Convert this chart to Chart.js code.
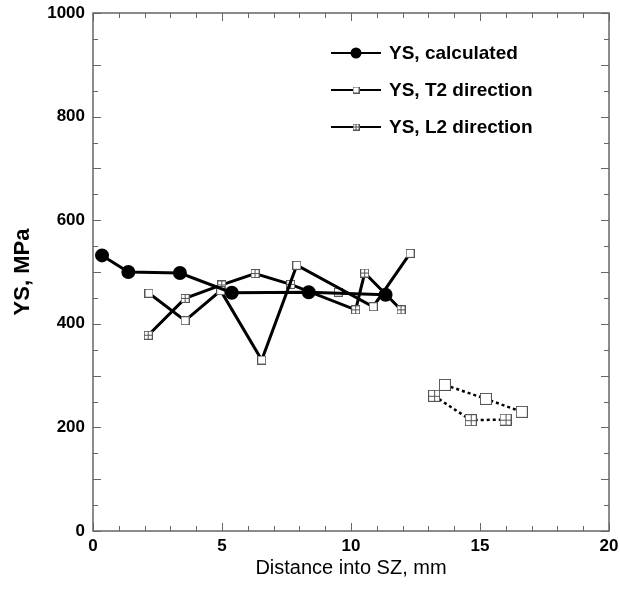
<!DOCTYPE html>
<html>
<head>
<meta charset="utf-8">
<script src="https://cdn.jsdelivr.net/npm/chart.js@4.4.1/dist/chart.umd.min.js"></script>
<style>
  html, body { margin: 0; padding: 0; background: #fff; }
</style>
</head>
<body>
<canvas id="ysChart" width="620" height="590"></canvas>
<script>
// values
const xCalc = [0.35, 1.37, 3.37, 5.38, 8.36, 11.34];
const ysCalc = [532, 500, 498, 460, 461, 456];

const xT2 = [2.17, 3.57, 4.95, 6.54, 7.9, 10.86, 12.29];
const ysT2 = [459, 406, 464, 330, 513, 433, 536];
const xT2Lone = [9.51];
const ysT2Lone = [461];
const xT2Far = [13.64, 15.23, 16.62];
const ysT2Far = [282, 255, 230];

const xL2 = [2.14, 3.57, 4.99, 6.28, 7.66, 10.18, 10.53, 11.94];
const ysL2 = [378, 449, 475, 497, 476, 427, 498, 427];
const xL2Far = [13.22, 14.64, 15.99];
const ysL2Far = [261, 214, 215];

const seriesNames = ['YS, calculated', 'YS, T2 direction', 'YS, L2 direction'];
const xTicks = [0, 5, 10, 15, 20];
const yTicks = [0, 200, 400, 600, 800, 1000];

Chart.defaults.font.family = "'Liberation Sans', Arial, sans-serif";
Chart.defaults.color = '#000';

function pts(xs, ys) {
    return xs.map((x, i) => ({ x: x, y: ys[i] }));
}

function squareMarker(size, cross) {
    const c = document.createElement('canvas');
    c.width = size;
    c.height = size;
    const g = c.getContext('2d');
    g.fillStyle = '#fff';
    g.fillRect(0, 0, size, size);
    g.strokeStyle = '#555';
    g.lineWidth = 1;
    g.strokeRect(0.5, 0.5, size - 1, size - 1);
    if (cross) {
        const m = Math.floor(size / 2) + 0.5;
        g.beginPath();
        g.moveTo(m, 0); g.lineTo(m, size);
        g.moveTo(0, m); g.lineTo(size, m);
        g.stroke();
    }
    return c;
}

const plainSq = squareMarker(9, false);
const crossSq = squareMarker(9, true);
const plainBig = squareMarker(12, false);
const crossBig = squareMarker(12, true);
const plainSmall = squareMarker(7, false);
const crossSmall = squareMarker(7, true);

// inward ticks on all four sides + frame
const framePlugin = {
    id: 'frame',
    beforeDatasetsDraw(chart) {
        const ctx = chart.ctx;
        const a = chart.chartArea;
        const xs = chart.scales.x, ys = chart.scales.y;
        ctx.save();
        ctx.strokeStyle = '#666';
        ctx.lineWidth = 1;
        ctx.beginPath();
        for (let v = 0; v <= 20; v++) {
            const px = Math.round(xs.getPixelForValue(v)) + 0.5;
            const len = v % 5 === 0 ? 8 : 5;
            ctx.moveTo(px, a.bottom); ctx.lineTo(px, a.bottom - len);
            ctx.moveTo(px, a.top); ctx.lineTo(px, a.top + len);
        }
        for (let v = 0; v <= 1000; v += 50) {
            const py = Math.round(ys.getPixelForValue(v)) + 0.5;
            const len = v % 100 === 0 ? 8 : 5;
            ctx.moveTo(a.left, py); ctx.lineTo(a.left + len, py);
            ctx.moveTo(a.right, py); ctx.lineTo(a.right - len, py);
        }
        ctx.stroke();
        ctx.lineWidth = 1.5;
        ctx.strokeRect(a.left, a.top, a.right - a.left, a.bottom - a.top);
        ctx.restore();
    }
};

// legend inside the plot, line with marker
const legendPlugin = {
    id: 'insideLegend',
    afterDraw(chart) {
        const ctx = chart.ctx;
        const rows = [53, 90, 127];
        ctx.save();
        rows.forEach((y, i) => {
            ctx.strokeStyle = '#000';
            ctx.lineWidth = 2;
            ctx.beginPath();
            ctx.moveTo(331, y);
            ctx.lineTo(381, y);
            ctx.stroke();
            if (i === 0) {
                ctx.fillStyle = '#000';
                ctx.beginPath();
                ctx.arc(356, y, 5.5, 0, Math.PI * 2);
                ctx.fill();
            } else {
                const img = i === 1 ? plainSmall : crossSmall;
                ctx.drawImage(img, 356 - 3.5, y - 3.5);
            }
            ctx.fillStyle = '#000';
            ctx.font = "bold 19px 'Liberation Sans', Arial, sans-serif";
            ctx.textBaseline = 'middle';
            ctx.fillText(seriesNames[i], 389, y + 1);
        });
        ctx.restore();
    }
};

const ctx = document.getElementById('ysChart').getContext('2d');
new Chart(ctx, {
    type: 'scatter',
    data: {
        datasets: [
            {
                label: seriesNames[0],
                data: pts(xCalc, ysCalc),
                showLine: true,
                borderColor: '#000',
                borderWidth: 3,
                backgroundColor: '#000',
                pointStyle: 'circle',
                pointRadius: 5.5
            },
            {
                label: seriesNames[1],
                data: pts(xT2, ysT2),
                showLine: true,
                borderColor: '#000',
                borderWidth: 3,
                pointStyle: plainSq,
                pointRadius: 5
            },
            {
                label: seriesNames[2],
                data: pts(xL2, ysL2),
                showLine: true,
                borderColor: '#000',
                borderWidth: 3,
                pointStyle: crossSq,
                pointRadius: 5
            },
            {
                label: 'T2 lone',
                data: pts(xT2Lone, ysT2Lone),
                showLine: false,
                pointStyle: plainSq,
                pointRadius: 5
            },
            {
                label: 'T2 far',
                data: pts(xT2Far, ysT2Far),
                showLine: true,
                borderColor: '#000',
                borderWidth: 2.5,
                borderDash: [3, 3],
                pointStyle: plainBig,
                pointRadius: 6
            },
            {
                label: 'L2 far',
                data: pts(xL2Far, ysL2Far),
                showLine: true,
                borderColor: '#000',
                borderWidth: 2.5,
                borderDash: [3, 3],
                pointStyle: crossBig,
                pointRadius: 6
            }
        ]
    },
    options: {
        responsive: false,
        animation: false,
        events: [],
        layout: { padding: { top: 13, right: 11, left: 0, bottom: 0 } },
        plugins: {
            legend: { display: false },
            tooltip: { enabled: false }
        },
        scales: {
            x: {
                type: 'linear',
                min: 0,
                max: 20,
                afterBuildTicks: (s) => { s.ticks = xTicks.map(v => ({ value: v })); },
                afterFit: (s) => { s.height = 59; s.paddingLeft = 0; s.paddingRight = 0; },
                grid: { display: false, tickLength: 0 },
                border: { display: false },
                ticks: { font: { size: 17, weight: 'bold' }, padding: 5, maxRotation: 0 },
                title: {
                    display: true,
                    text: 'Distance into SZ, mm',
                    font: { size: 20 },
                    padding: { top: 0, bottom: 10 }
                }
            },
            y: {
                type: 'linear',
                min: 0,
                max: 1000,
                afterBuildTicks: (s) => { s.ticks = yTicks.map(v => ({ value: v })); },
                afterFit: (s) => { s.width = 93; s.paddingTop = 0; s.paddingBottom = 0; },
                grid: { display: false, tickLength: 0 },
                border: { display: false },
                ticks: {
                    font: { size: 17, weight: 'bold' },
                    padding: 8,
                    callback: (v) => String(v)
                },
                title: {
                    display: true,
                    text: 'YS, MPa',
                    font: { size: 22, weight: 'bold' },
                    padding: { top: 10, bottom: 0 }
                }
            }
        }
    },
    plugins: [framePlugin, legendPlugin]
});
</script>
</body>
</html>
